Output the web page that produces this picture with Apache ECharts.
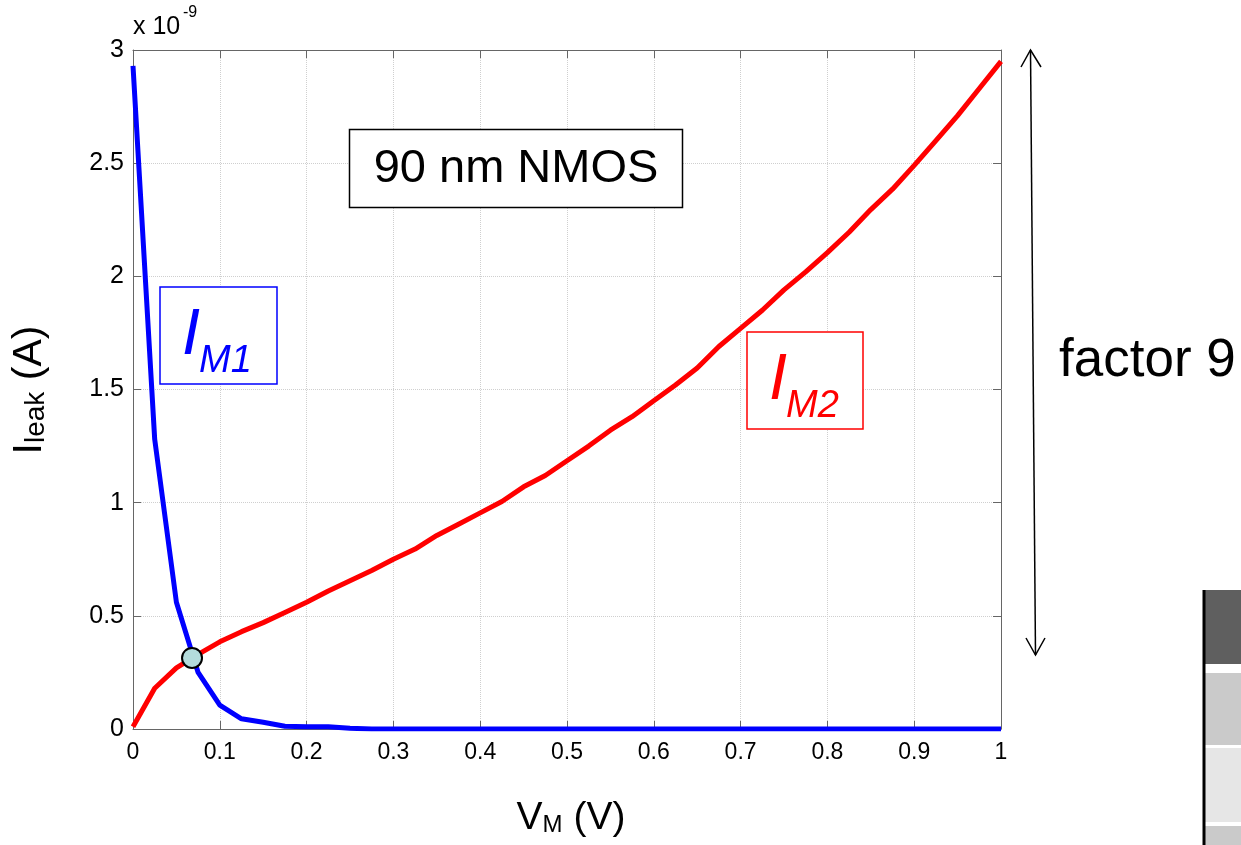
<!DOCTYPE html>
<html>
<head>
<meta charset="utf-8">
<script src="https://cdn.jsdelivr.net/npm/echarts@6/dist/echarts.min.js"></script>
<style>
  html, body { margin: 0; padding: 0; background: #fff; }
  #chart { width: 1241px; height: 845px; }
</style>
</head>
<body>
<div id="chart"></div>
<script>
// V_M sweep (V)
const vm = [0, 0.025, 0.05, 0.075, 0.1, 0.125, 0.15, 0.175, 0.2, 0.225,
  0.25, 0.275, 0.3, 0.325, 0.35, 0.375, 0.4, 0.425, 0.45, 0.475,
  0.5, 0.525, 0.55, 0.575, 0.6, 0.625, 0.65, 0.675, 0.7, 0.725,
  0.75, 0.775, 0.8, 0.825, 0.85, 0.875, 0.9, 0.925, 0.95, 0.975, 1]

// leakage currents, in units of 1e-9 A
const iM1 = [2.93, 1.28, 0.56, 0.25, 0.105, 0.045, 0.03, 0.012, 0.01, 0.01,
  0.003, 0, 0, 0, 0, 0, 0, 0, 0, 0,
  0, 0, 0, 0, 0, 0, 0, 0, 0, 0,
  0, 0, 0, 0, 0, 0, 0, 0, 0, 0, 0]
const iM2 = [0.01, 0.18, 0.27, 0.33, 0.385, 0.43, 0.47, 0.515, 0.56, 0.61,
  0.655, 0.70, 0.75, 0.795, 0.855, 0.905, 0.955, 1.005, 1.07, 1.12,
  1.185, 1.25, 1.32, 1.38, 1.45, 1.52, 1.595, 1.69, 1.77, 1.85,
  1.94, 2.02, 2.105, 2.195, 2.295, 2.385, 2.49, 2.60, 2.71, 2.83, 2.95]

// operating point where both currents are equal
const crossV = [0.068]
const crossI = [0.314]

const xTicks = { min: 0, max: 1, interval: 0.1 }
const yTicks = { min: 0, max: 3, interval: 0.5 }

const FONT = 'Liberation Sans, Arial, sans-serif'
const zip = (xs, ys) => xs.map((x, i) => [x, ys[i]])

const chart = echarts.init(document.getElementById('chart'))

const tickLabel = { fontFamily: FONT, color: '#000' }
const axisLine = { show: true, onZero: false, lineStyle: { color: '#666', width: 1 } }
const axisTick = { show: true, inside: true, length: 8, lineStyle: { color: '#666' } }
const split = { show: true, lineStyle: { color: '#cfcfcf', type: 'dotted', width: 1 } }
const fmt = (v) => String(+v.toFixed(1))

const option = {
  animation: false,
  backgroundColor: '#fff',
  grid: { left: 133, right: 240, top: 50, bottom: 116, show: false },
  xAxis: [
    {
      type: 'value', ...xTicks,
      axisLine, axisTick, splitLine: split,
      axisLabel: { ...tickLabel, fontSize: 23, margin: 12, formatter: fmt },
    },
    {
      type: 'value', ...xTicks, position: 'top',
      axisLine, axisTick, splitLine: { show: false }, axisLabel: { show: false },
    },
  ],
  yAxis: [
    {
      type: 'value', ...yTicks,
      axisLine, axisTick, splitLine: split,
      axisLabel: { ...tickLabel, fontSize: 25, margin: 9, formatter: fmt },
    },
    {
      type: 'value', ...yTicks, position: 'right',
      axisLine, axisTick, splitLine: { show: false }, axisLabel: { show: false },
    },
  ],
  series: [
    {
      name: 'I_M2', type: 'line', data: zip(vm, iM2),
      showSymbol: false, lineStyle: { color: '#ff0000', width: 5 }, z: 2,
    },
    {
      name: 'I_M1', type: 'line', data: zip(vm, iM1),
      showSymbol: false, lineStyle: { color: '#0000ff', width: 5 }, z: 3,
    },
    {
      name: 'cross', type: 'scatter', data: zip(crossV, crossI),
      symbolSize: 20, z: 4,
      itemStyle: { color: '#b4dcdc', borderColor: '#000', borderWidth: 2, opacity: 1 },
    },
  ],
  graphic: [
    // x 10^-9 exponent
    { type: 'text', left: 133, top: 15, style: { text: 'x 10', font: '25px ' + FONT, fill: '#000' } },
    { type: 'text', left: 183, top: 5, style: { text: '-9', font: '16px ' + FONT, fill: '#000' } },
    // axis names
    {
      type: 'text', x: 30, y: 390, rotation: Math.PI / 2,
      style: {
        text: '{a|I}{b|leak}{a| (A)}', align: 'center', verticalAlign: 'middle', fill: '#000',
        rich: {
          a: { fontFamily: FONT, fontSize: 41, lineHeight: 40 },
          b: { fontFamily: FONT, fontSize: 28, lineHeight: 8, verticalAlign: 'bottom' },
        },
      },
    },
    {
      type: 'text', x: 571, y: 818,
      style: {
        text: '{a|V}{b|M}{a| (V)}', align: 'center', verticalAlign: 'middle', fill: '#000',
        rich: {
          a: { fontFamily: FONT, fontSize: 39, lineHeight: 38 },
          b: { fontFamily: FONT, fontSize: 24, lineHeight: 8, verticalAlign: 'bottom' },
        },
      },
    },
    // 90 nm NMOS box
    { type: 'rect', shape: { x: 349.5, y: 129.5, width: 333, height: 78 }, style: { fill: '#fff', stroke: '#000', lineWidth: 1.5 }, z: 10 },
    { type: 'text', x: 516, y: 169, z: 11, style: { text: '90 nm NMOS', font: '47px ' + FONT, fill: '#000', align: 'center', verticalAlign: 'middle' } },
    // I_M1 label
    { type: 'rect', shape: { x: 160, y: 287, width: 117, height: 97 }, style: { fill: '#fff', stroke: '#0000ff', lineWidth: 1.5 }, z: 10 },
    { type: 'text', x: 182, y: 336, z: 11, style: { text: 'I', font: 'italic 65px ' + FONT, fill: '#0000ff', verticalAlign: 'middle' } },
    { type: 'text', x: 199, y: 361, z: 11, style: { text: 'M1', font: 'italic 38px ' + FONT, fill: '#0000ff', verticalAlign: 'middle' } },
    // I_M2 label
    { type: 'rect', shape: { x: 747, y: 332, width: 116, height: 97 }, style: { fill: '#fff', stroke: '#ff0000', lineWidth: 1.5 }, z: 10 },
    { type: 'text', x: 769, y: 381, z: 11, style: { text: 'I', font: 'italic 65px ' + FONT, fill: '#ff0000', verticalAlign: 'middle' } },
    { type: 'text', x: 786, y: 406, z: 11, style: { text: 'M2', font: 'italic 38px ' + FONT, fill: '#ff0000', verticalAlign: 'middle' } },
    // factor arrow
    { type: 'line', shape: { x1: 1030.5, y1: 50, x2: 1035.5, y2: 655 }, style: { stroke: '#000', lineWidth: 1.5 } },
    { type: 'polyline', shape: { points: [[1021, 67], [1030.5, 50], [1041, 67]] }, style: { stroke: '#000', lineWidth: 1.5, fill: null } },
    { type: 'polyline', shape: { points: [[1026, 638], [1035.5, 655], [1045, 638]] }, style: { stroke: '#000', lineWidth: 1.5, fill: null } },
    { type: 'text', x: 1059, y: 361, style: { text: 'factor 9', font: '53px ' + FONT, fill: '#000', verticalAlign: 'middle' } },
    // clipped table at lower right
    { type: 'rect', shape: { x: 1203, y: 590, width: 38, height: 74 }, style: { fill: '#5f5f5f' } },
    { type: 'rect', shape: { x: 1203, y: 673, width: 38, height: 72 }, style: { fill: '#cacaca' } },
    { type: 'rect', shape: { x: 1203, y: 748, width: 38, height: 74 }, style: { fill: '#e6e6e6' } },
    { type: 'rect', shape: { x: 1203, y: 826, width: 38, height: 19 }, style: { fill: '#cacaca' } },
    { type: 'line', shape: { x1: 1204, y1: 590, x2: 1204, y2: 845 }, style: { stroke: '#000', lineWidth: 3 } },
  ],
}

chart.setOption(option)
window.addEventListener('resize', () => chart.resize())
</script>
</body>
</html>
